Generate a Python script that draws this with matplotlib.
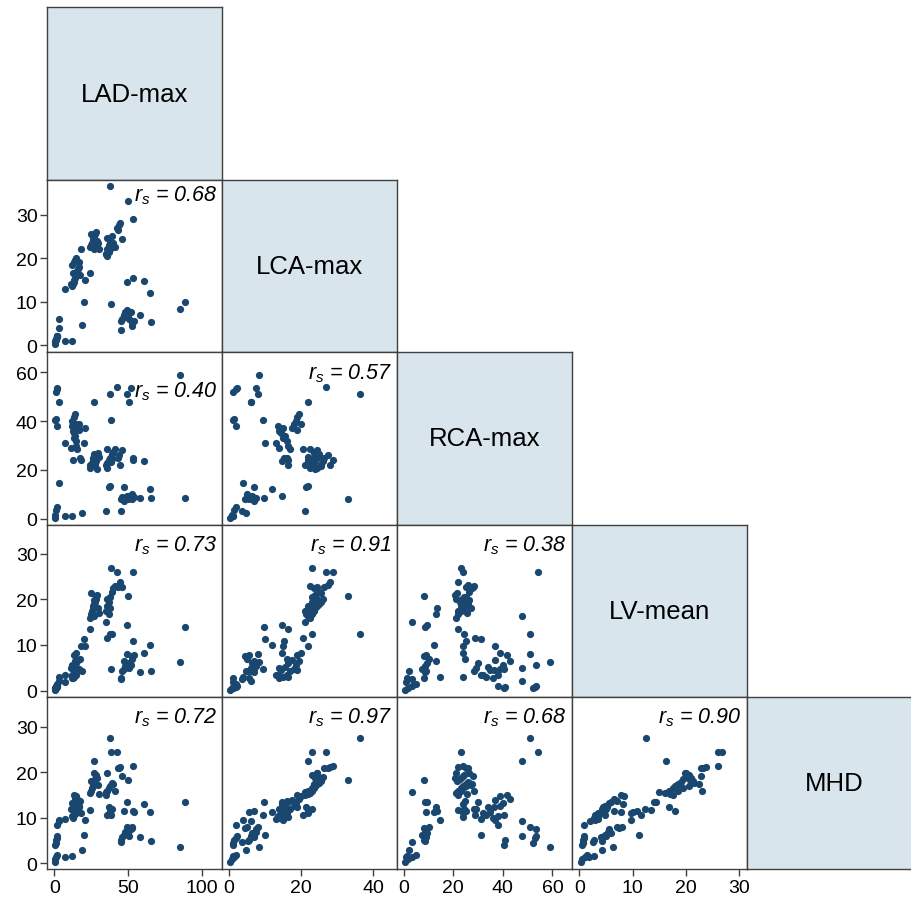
import matplotlib
matplotlib.use("Agg")
import matplotlib.pyplot as plt

plt.rcParams['font.family'] = ['Liberation Sans', 'DejaVu Sans']
plt.rcParams['mathtext.fontset'] = 'custom'
plt.rcParams['mathtext.it'] = 'Liberation Sans:italic'
plt.rcParams['mathtext.rm'] = 'Liberation Sans'

names = ["LAD-max", "LCA-max", "RCA-max", "LV-mean", "MHD"]

# one value per patient, same order in every list (grouped roughly by cluster)
lad = [0.2, 0.5, 1.0, 1.5, 0.8, 1.5, 2.0, 3.4, 0.5, 1.2, 2.0, 3.0, 7.0, 12.0, 19.0,
       12.0, 12.5, 13.0, 13.5, 14.0, 14.5, 15.0, 15.5, 16.0, 16.5, 12.0, 13.0, 14.0, 15.0, 16.5, 11.5, 12.5, 17.5, 7.0,
       24.0, 25.0, 25.5, 26.0, 26.5, 27.0, 27.5, 28.0, 28.5, 29.0, 30.0, 26.6, 27.0, 25.0, 29.5, 18.0, 24.0, 20.0, 20.5,
       35.0, 36.0, 37.0, 38.0, 39.0, 40.0, 41.0, 35.5, 37.0, 38.0, 36.0, 39.0, 35.0, 38.6, 38.6, 42.5, 37.5,
       53.4, 50.0, 43.0, 44.0, 44.5, 46.0, 49.0, 53.4, 61.0, 65.0, 65.5, 58.4, 85.0, 88.6,
       45.0, 45.5, 46.0, 47.0, 48.0, 49.0, 50.0, 51.0, 52.0, 52.5, 53.0, 47.5, 54.0]
lca = [0.2, 0.8, 1.5, 2.0, 1.2, 1.8, 2.2, 6.0, 1.0, 1.5, 2.0, 4.0, 1.0, 1.0, 4.6,
       13.5, 14.0, 14.5, 15.0, 15.5, 16.0, 16.5, 17.0, 17.5, 18.0, 18.5, 19.0, 19.5, 20.0, 19.0, 14.0, 16.5, 16.0, 13.0,
       22.5, 23.0, 23.5, 24.0, 24.5, 25.0, 25.5, 26.0, 23.0, 24.0, 22.0, 22.0, 24.5, 25.5, 23.5, 22.0, 16.5, 10.0, 15.0,
       21.0, 22.0, 23.0, 24.0, 25.0, 23.5, 22.5, 24.5, 21.5, 22.0, 20.5, 23.0, 21.0, 9.5, 23.0, 27.0, 36.5,
       29.0, 33.0, 26.5, 27.5, 28.0, 24.4, 14.6, 15.4, 14.8, 12.0, 5.3, 7.0, 8.4, 9.8,
       3.5, 5.5, 6.0, 7.0, 7.5, 8.0, 6.5, 6.0, 7.5, 5.0, 4.5, 6.8, 5.5]
rca = [0.5, 1.5, 3.5, 5.0, 52.0, 53.0, 53.5, 47.8, 40.5, 41.0, 38.0, 14.8, 1.0, 1.3, 2.3,
       38.0, 36.0, 35.0, 33.0, 34.0, 32.0, 30.0, 28.5, 37.0, 39.0, 40.0, 41.5, 43.0, 39.0, 36.5, 29.0, 24.0, 24.7, 31.0,
       21.0, 22.0, 23.0, 24.0, 25.0, 26.0, 22.5, 23.5, 24.5, 20.5, 25.5, 47.8, 26.5, 21.5, 27.0, 24.0, 22.0, 31.0, 37.0,
       22.0, 23.0, 24.0, 25.0, 26.5, 27.5, 28.5, 21.0, 13.0, 13.4, 28.6, 24.5, 3.2, 40.5, 23.2, 54.0, 51.0,
       24.0, 8.2, 25.0, 26.0, 22.0, 28.0, 9.5, 25.0, 23.7, 12.3, 8.6, 8.6, 59.0, 8.6,
       3.2, 8.0, 9.0, 7.5, 8.5, 51.0, 9.5, 47.8, 53.5, 10.0, 8.0, 13.0, 9.0]
lv = [0.2, 0.5, 1.0, 1.5, 0.6, 0.8, 0.9, 2.0, 0.5, 0.7, 0.9, 3.0, 1.8, 2.7, 4.2,
      3.5, 2.7, 4.4, 3.0, 5.2, 3.4, 6.0, 4.2, 6.6, 4.8, 5.6, 7.8, 6.4, 8.3, 4.5, 5.0, 2.9, 7.0, 3.5,
      16.0, 16.8, 17.5, 18.0, 18.5, 19.0, 19.5, 20.0, 20.5, 21.0, 17.0, 16.3, 19.8, 21.3, 18.2, 9.7, 13.5, 11.2, 9.7,
      17.5, 18.5, 19.5, 20.5, 21.5, 22.5, 23.0, 20.0, 16.7, 18.0, 11.6, 12.3, 15.0, 4.8, 26.8, 26.0, 12.5,
      26.0, 20.8, 22.7, 23.2, 23.7, 22.8, 14.4, 10.8, 8.2, 10.0, 4.3, 4.0, 6.2, 14.0,
      2.5, 2.7, 4.2, 4.8, 5.3, 8.0, 6.0, 5.0, 5.5, 7.0, 7.5, 6.5, 7.8]
mhd = [0.3, 1.0, 1.5, 1.8, 4.5, 5.5, 6.0, 9.3, 4.0, 5.2, 8.5, 9.6, 1.3, 1.7, 3.0,
       10.4, 9.9, 11.4, 10.6, 12.3, 11.0, 13.4, 11.9, 13.9, 12.6, 13.2, 15.0, 14.2, 14.8, 12.5, 12.0, 10.2, 13.8, 9.7,
       15.5, 16.0, 16.5, 17.0, 17.5, 18.0, 18.5, 19.0, 19.5, 18.8, 15.3, 22.5, 19.8, 18.2, 17.2, 11.0, 11.8, 6.3, 9.6,
       15.0, 16.0, 16.5, 17.0, 17.7, 17.5, 16.0, 19.9, 12.5, 11.5, 10.7, 12.0, 15.8, 10.7, 24.5, 24.5, 27.6,
       21.4, 18.4, 20.9, 21.0, 21.1, 19.2, 13.6, 11.5, 13.1, 11.3, 5.0, 5.7, 3.7, 13.4,
       4.8, 5.2, 5.8, 6.3, 7.0, 8.1, 6.6, 6.0, 7.5, 8.0, 7.8, 11.6, 11.4]
cols = [lad, lca, rca, lv, mhd]

# spearman coefficients, lower triangle read row by row
rs_vals = [0.68, 0.40, 0.57, 0.73, 0.91, 0.38, 0.72, 0.97, 0.68, 0.90]

xlims = [(-4.8, 114), (-1.9, 46.7), (-2.7, 67.9), (-1.4, 31.4), (0, 1)]
ylims = [(0, 1), (-1.6, 38.0), (-2.3, 68.2), (-1.4, 36.4), (-1.3, 36.6)]
xticks = [[0, 50, 100], [0, 20, 40], [0, 20, 40, 60], [0, 10, 20, 30], []]
yticks = [[], [0, 10, 20, 30], [0, 20, 40, 60], [0, 10, 20, 30], [0, 10, 20, 30]]

W, H = 912, 904
fig = plt.figure(figsize=(W / 100, H / 100), dpi=100)

cw, ch = 174.9, 172.4
x0, y0 = 47.3, 8.3
edge = '#404040'
# how far (px) the r_s label sits below the panel top
drop = [4, 27, 9, 9, 9, 9, 9, 9, 9, 9]
k = 0
for i in range(5):
    for j in range(i + 1):
        left = x0 + j * cw
        top = y0 + i * ch
        ax = fig.add_axes([left / W, 1 - (top + ch) / H, cw / W, ch / H])
        for s in ax.spines.values():
            s.set_color(edge)
            s.set_linewidth(1.0)
        if i == j:
            ax.set_facecolor('#d8e5ec')
            ax.text(0.5, 0.5, names[i], transform=ax.transAxes, ha='center', va='center',
                    fontsize=18.5, color='black')
            ax.set_xlim(0, 1)
            ax.set_ylim(0, 1)
        else:
            ax.scatter(cols[j], cols[i], s=27, color='#1a476f', linewidths=0, zorder=3)
            ax.set_xlim(*xlims[j])
            ax.set_ylim(*ylims[i])
            ax.text(1 - 5 / cw, 1 - drop[k] / ch, r'$r_s$ = %.2f' % rs_vals[k], transform=ax.transAxes,
                    ha='right', va='top', fontsize=15.5, style='italic', zorder=4)
            k += 1
        if j == 0 and i > 0:
            ax.set_yticks(yticks[i])
        else:
            ax.set_yticks([])
        if i == 4 and j < 4:
            ax.set_xticks(xticks[j])
        else:
            ax.set_xticks([])
        ax.tick_params(direction='out', length=5, width=1, color=edge, labelsize=14, pad=2)

fig.savefig("out.png", dpi=100)
